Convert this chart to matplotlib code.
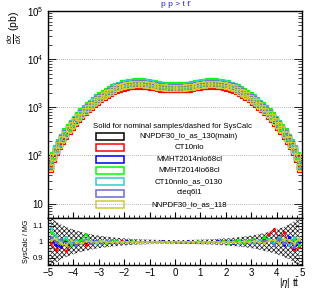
import numpy as np
import matplotlib
matplotlib.use("Agg")
import matplotlib.pyplot as plt
from matplotlib.patches import Rectangle
from matplotlib.ticker import FixedLocator, FuncFormatter, MultipleLocator, LogLocator, NullFormatter

plt.rcParams['font.family'] = ['Liberation Sans', 'DejaVu Sans']
plt.rcParams['mathtext.fontset'] = 'custom'
plt.rcParams['mathtext.rm'] = 'Liberation Sans'
plt.rcParams['mathtext.it'] = 'Liberation Sans:italic'
plt.rcParams['hatch.linewidth'] = 0.55

# ---------------- data ----------------
# main-panel bins: width 0.125, centres -4.9375 ... 4.9375
eta_main = np.arange(-4.9375, 5.0, 0.125)
# nominal (main PDF) cross section for |eta| = 0.0625 ... 4.9375 (pb)
main_half = [2550, 2555, 2570, 2600, 2650, 2720, 2800, 2890, 2970, 3030,
             3070, 3085, 3075, 3040, 2980, 2900, 2790, 2650, 2490, 2320,
             2140, 1960, 1780, 1600, 1430, 1270, 1120, 980, 850, 730,
             620, 520, 430, 350, 280, 220, 170, 128, 92, 58]
main_xs = np.array(main_half[::-1] + main_half)

labels = ["NNPDF30_lo_as_130(main)", "CT10nlo", "MMHT2014nlo68cl",
          "MMHT2014lo68cl", "CT10nnlo_as_0130", "cteq6l1", "NNPDF30_lo_as_118"]
colors = ["black", "#ff0000", "#0000ff", "#00ff00", "#33cccc", "#6b6bd6", "#cccc33"]
scale = [1.00, 0.92, 1.04, 1.12, 1.08, 1.02, 0.99]

# ratio-panel bins: width 0.2, centres -4.9 ... 4.9
eta_ratio = np.round(np.arange(-4.9, 5.0, 0.2), 1)
# SysCalc / MG ratio deviations (percent)
ratio_dev = [
    [0, 1, -1, 0.5, 0, -0.5, 0.3, 0, -0.2, 0.1, 0, 0.1, -0.1, 0, 0.1, 0, -0.1, 0, 0.1, 0, 0, 0, 0.1, 0, 0,
     0, 0, 0.1, 0, -0.1, 0, 0.1, 0, -0.1, 0.1, 0, -0.1, 0.2, -0.2, 0.3, 0, -0.4, 0.5, 1, 0.5, -1, 1, 0, -1, 0],
    [-1, -5, -3, -6, -2, -1, 1, -2, -1, 0, 0.5, -0.5, 0.3, -0.3, 0.4, -0.2, 0.2, 0.1, -0.2, 0.1, 0, 0.2, -0.1, 0, 0.1,
     -0.1, 0.1, 0, -0.2, 0.1, 0.2, -0.1, 0.1, -0.2, 0.3, -0.3, 0.2, 0.5, -0.5, 1, 0.5, -1, 2, 5, 8, 2, 6, -2, -5, -3],
    [2, -2, -3, 1, -2, 0, -1, 1, 0.5, 0.5, -0.3, 0.2, 0.6, 0.3, -0.2, 0.3, -0.3, 0.2, 0.1, -0.2, 0.2, 0, 0.3, -0.1, 0,
     0.2, -0.2, 0.3, -0.1, 0, 0.2, -0.3, 0.1, 0.3, -0.2, 0.2, -0.4, 0.5, 0.8, -1, 1, -0.5, -1, 2, -2, 4, -2, 3, -4, 0],
    [6, 3, -1, 2, -2, 0, 1, 5, -1, 0, 0.8, -0.5, 0.3, 0.4, -0.3, 0.2, 0.3, -0.2, 0.1, 0.2, -0.1, 0, 0.2, 0.1, -0.1,
     0, 0.2, -0.1, 0.1, 0.3, -0.2, 0.1, -0.3, 0.2, 0.4, -0.4, 0.5, 1, -1, 1, 2, -1, 3, 1, -2, 3, 0, 1, 2, -2],
    [9, 4, 0, 3, -1, 1, 0, 2, 0, -0.5, 0.5, 0.3, -0.3, 0.2, 0.1, -0.2, 0.2, 0, 0.1, -0.1, 0.1, 0.1, 0, -0.1, 0.1,
     0.1, 0, -0.1, 0.2, 0, 0.1, -0.1, 0.2, 0, -0.3, 0.3, 0, -0.5, 0.6, 0, -1, 1, 0, 2, -1, 3, 1, -2, 3, 1],
    [3, 0, 2, -1, 1, -2, 0, 1, -1, 0.5, -0.5, 0.3, 0, -0.3, 0.2, 0.1, -0.1, 0.2, 0, 0.1, 0, -0.1, 0.1, 0, 0.1,
     0, 0.1, 0, -0.1, 0.1, 0, 0.2, -0.1, 0, 0.2, -0.2, 0.3, -0.3, 0.5, -0.5, 1, -1, 0.5, 1, -2, 2, -1, 1, -3, 2],
    [1, 2, -1, -2, 1, 0, -1, 0.5, 0.3, -0.2, 0.3, 0, -0.2, 0.1, 0, 0.2, 0, -0.1, 0, 0.1, 0, 0.1, 0, 0, -0.1,
     0.1, 0, 0, 0.1, 0, -0.1, 0.1, 0, 0.1, -0.1, 0.2, -0.2, 0, 0.3, -0.3, 0.5, 0, -1, 1, 1, -1, 2, 1, -1, 2],
]
# half width of the SysCalc band for |eta| = 0.1 ... 4.9
band_half = [0.012, 0.012, 0.012, 0.013, 0.014, 0.015, 0.016, 0.017, 0.019, 0.021,
             0.023, 0.026, 0.029, 0.033, 0.037, 0.042, 0.048, 0.055, 0.063, 0.072,
             0.083, 0.095, 0.110, 0.130, 0.160]
band = np.array(band_half[::-1] + band_half)

# ---------------- figure ----------------
W, H = 318, 291
fig = plt.figure(figsize=(W / 100, H / 100), dpi=100)
L, R = 48 / W, 302 / W
ax = fig.add_axes([L, 1 - 218 / H, R - L, (218 - 11) / H])
axr = fig.add_axes([L, 1 - 265 / H, R - L, (265 - 218) / H], sharex=ax)

for lab, col, s in zip(labels, colors, scale):
    y = main_xs * s
    ax.plot(eta_main, y, color=col, lw=0.7, marker='s', ms=3.8, mfc='none', mec=col, mew=0.85)

ax.set_yscale('log')
ax.set_ylim(5, 1e5)
ax.set_xlim(-5, 5)
ax.yaxis.set_major_locator(FixedLocator([10, 100, 1000, 1e4, 1e5]))
ax.yaxis.set_major_formatter(FuncFormatter(
    lambda v, p: "10" if abs(v - 10) < 1e-6 else r"$10^{%d}$" % round(np.log10(v))))
ax.yaxis.set_minor_locator(LogLocator(base=10, subs=np.arange(2, 10)))
ax.yaxis.set_minor_formatter(NullFormatter())
ax.yaxis.grid(True, which='major', ls=(0, (1, 1.5)), color='#999999', lw=0.6)
ax.tick_params(axis='both', which='both', direction='in', right=True, labelsize=7)
ax.tick_params(axis='y', which='major', length=6, width=0.6)
ax.tick_params(axis='y', which='minor', length=3, width=0.5)
ax.tick_params(axis='x', which='major', length=4, labelbottom=False)
ax.xaxis.set_major_locator(MultipleLocator(1))
ax.xaxis.set_minor_locator(MultipleLocator(0.2))
ax.tick_params(axis='x', which='minor', length=2)
for sp in ax.spines.values():
    sp.set_linewidth(1.0)

ax.set_ylabel(r"$\frac{d\sigma}{dX}$ (pb)", loc='top', fontsize=7.5, labelpad=2)

# legend (manual, ROOT-like)
fig.text(172 / W, 1 - 127 / H, "Solid for nominal samples/dashed for SysCalc",
         ha='center', va='center', fontsize=5.6)
row0 = 136.5
for i, (lab, col) in enumerate(zip(labels, colors)):
    yc = row0 + i * 11.3
    fig.patches.append(Rectangle((96 / W, 1 - (yc + 3.5) / H), 28 / W, 7 / H,
                                 transform=fig.transFigure, fill=False,
                                 edgecolor=col, lw=1.1))
    fig.text(189 / W, 1 - yc / H, lab, ha='center', va='center', fontsize=5.7)

fig.text(175 / W, 1 - 5 / H, "p p > t t\u0304", ha='center', va='center',
         fontsize=6, color='#2222cc')

# ratio panel
axr.fill_between(eta_ratio, 1 - band, 1 + band, facecolor='none', edgecolor='#222222',
                 hatch='xxxxxxx', lw=0)
for dev, col in zip(ratio_dev, colors):
    axr.plot(eta_ratio, 1 + np.array(dev) / 100.0, color=col, lw=0.8, marker='o', ms=1.2)
axr.set_ylim(0.855, 1.15)
axr.set_xlim(-5, 5)
axr.yaxis.set_major_locator(FixedLocator([0.9, 1.0, 1.1]))
axr.yaxis.set_major_formatter(FuncFormatter(lambda v, p: "1" if abs(v - 1) < 1e-6 else "%.1f" % v))
axr.yaxis.set_minor_locator(MultipleLocator(0.02))
axr.xaxis.set_major_locator(MultipleLocator(1))
axr.xaxis.set_minor_locator(MultipleLocator(0.2))
axr.tick_params(axis='both', which='both', direction='in', right=True)
axr.tick_params(axis='y', which='major', labelsize=5.5, length=5, width=0.6)
axr.tick_params(axis='y', which='minor', length=2.5)
axr.tick_params(axis='x', which='major', labelsize=7, length=4, pad=2)
axr.tick_params(axis='x', which='minor', length=2)
axr.set_ylabel("SysCalc / MG", fontsize=5, labelpad=2)
fig.text(300 / W, 1 - 283 / H, r"|$\eta$| t$\bar{\rm t}$", ha='right', va='center', fontsize=7)
for sp in axr.spines.values():
    sp.set_linewidth(1.0)

fig.savefig("out.png", dpi=100)
